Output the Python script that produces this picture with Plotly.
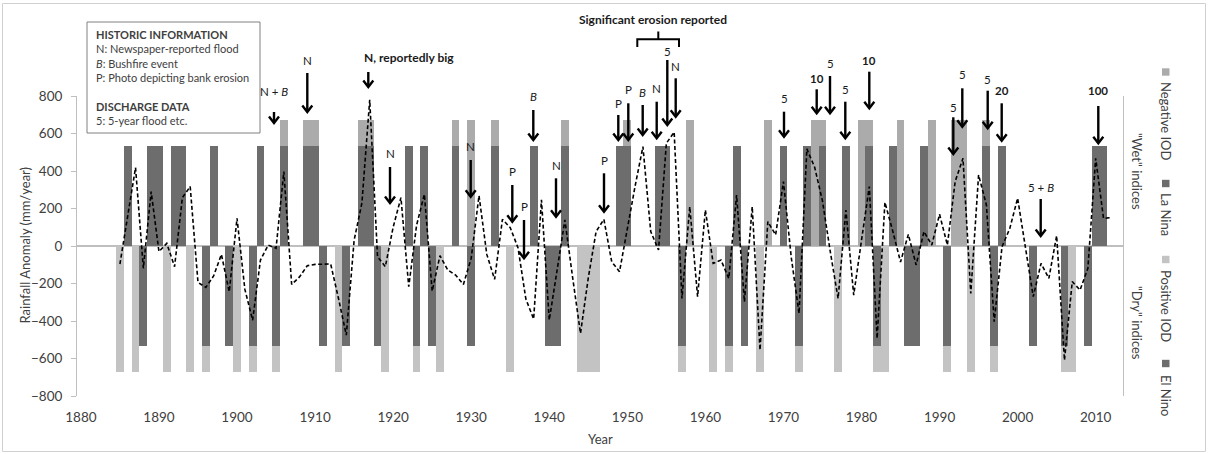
import plotly.graph_objects as go

# ---------------- data ----------------
years = list(range(1885, 2013))
rain_anom = [
    -96, 150, 418, -119, 290, -30, 14, -110, 258, 317,          # 1885-1894
    -194, -221, -160, -45, -244, 148, -230, -396, -75, 5,        # 1895-1904
    -12, 397, -205, -165, -105, -98, -96, -96, -280, -475,       # 1905-1914
    30, 230, 780, -57, -110, 100, 258, -217, 110, 276,           # 1915-1924
    -240, -52, -128, -155, -205, -65, 269, -45, -178, 142,       # 1925-1934
    98, -10, -282, -390, 246, -395, -130, 139, -170, -466,       # 1935-1944
    -170, 77, 142, -84, -137, 100, 320, 530, 77, -21,            # 1945-1954
    548, 607, -280, 210, -270, 192, -93, -75, -173, 272,         # 1955-1964
    -297, 210, -555, 130, 59, 344, -60, -360, 518, 420,          # 1965-1974
    240, -30, -280, 192, -262, 30, 317, -493, 233, 80,           # 1975-1984
    -85, 62, -101, 77, 5, 169, 5, 344, 468, -253,                # 1985-1994
    379, 219, -404, -4, 94, 255, 0, -270, -93, -173,             # 1995-2004
    55, -609, -190, -235, -119, 468, 148, 151,                   # 2005-2012
]

la_nina_years = [1886, 1889, 1890, 1892, 1893, 1897, 1903, 1906, 1909, 1910,
                 1916, 1917, 1922, 1924, 1928, 1933, 1938, 1942, 1949, 1950,
                 1954, 1955, 1964, 1970, 1973, 1975, 1978, 1981, 1984, 1988,
                 1996, 1998, 2010, 2011]
neg_iod_years = [1906, 1909, 1910, 1916, 1917, 1928, 1930, 1933, 1942, 1950,
                 1958, 1968, 1974, 1975, 1980, 1981, 1985, 1989, 1992, 1993,
                 1996]
el_nino_years = [1888, 1896, 1899, 1902, 1905, 1911, 1914, 1918, 1923, 1925,
                 1930, 1940, 1941, 1957, 1963, 1965, 1972, 1982, 1986, 1987,
                 1991, 1997, 2002, 2006, 2009]
pos_iod_years = [1885, 1887, 1891, 1894, 1896, 1900, 1902, 1905, 1913, 1919,
                 1923, 1926, 1935, 1944, 1945, 1946, 1957, 1961, 1963, 1967,
                 1972, 1977, 1982, 1983, 1991, 1994, 1997, 2006, 2007]
ENSO_BAR = 535
IOD_BAR = 670
x_ticks = list(range(1880, 2011, 10))
y_ticks = list(range(-800, 801, 200))

# ---------------- layout geometry ----------------
W, H = 1208, 454
ML, MR, MT, MB = 77, 85, 96, 58
PW = W - ML - MR
PH = H - MT - MB


def xp(px):
    return (px - ML) / PW


def yp(py):
    return (H - MB - py) / PH


FONT = "Lato"
TXT = "#404040"
LBL = "#1a1a1a"
DARK = "#6d6d6d"
NEG_IOD_C = "#ababab"
POS_IOD_C = "#c3c3c3"
AXC = "#bfbfbf"

fig = go.Figure()
fig.add_bar(x=neg_iod_years, y=[IOD_BAR] * len(neg_iod_years), width=1,
            marker=dict(color=NEG_IOD_C, line=dict(width=0)), name="Negative IOD")
fig.add_bar(x=la_nina_years, y=[ENSO_BAR] * len(la_nina_years), width=1,
            marker=dict(color=DARK, line=dict(width=0)), name="La Nina")
fig.add_bar(x=pos_iod_years, y=[-IOD_BAR] * len(pos_iod_years), width=1,
            marker=dict(color=POS_IOD_C, line=dict(width=0)), name="Positive IOD")
fig.add_bar(x=el_nino_years, y=[-ENSO_BAR] * len(el_nino_years), width=1,
            marker=dict(color=DARK, line=dict(width=0)), name="El Nino")
fig.add_scatter(x=years, y=rain_anom, mode="lines",
                line=dict(color="black", width=1.6, dash="4px,2.5px"),
                name="Rainfall anomaly")

annotations = []
shapes = []

# outer chart border
shapes.append(dict(type="rect", xref="paper", yref="paper",
                   x0=xp(2.5), x1=xp(1205.5), y0=yp(451.5), y1=yp(3.5),
                   line=dict(color="#d0d0d0", width=1), layer="below"))

# info box
shapes.append(dict(type="rect", xref="paper", yref="paper",
                   x0=xp(87), x1=xp(260), y0=yp(133), y1=yp(22),
                   line=dict(color="#808080", width=1), fillcolor="white", layer="above"))
annotations.append(dict(
    xref="paper", yref="paper", x=xp(94), y=yp(26), xanchor="left", yanchor="top",
    align="left", showarrow=False,
    font=dict(family=FONT, size=11, color=TXT),
    text=("<b>HISTORIC INFORMATION</b><br>N: Newspaper-reported flood<br>"
          "<i>B</i>: Bushfire event<br>P: Photo depicting bank erosion<br> <br>"
          "<b>DISCHARGE DATA</b><br>5: 5-year flood etc.")))

# arrows: (label, x px, label y px, tail y px, tip y px)
arrows = [
    ("N + <i>B</i>", 274, 91.7, 112, 123),
    ("N", 307.3, 61, 73, 112),
    (None, 368.3, None, 72, 87),
    ("N", 390, 153, 167, 203),
    ("N", 470.7, 146.7, 160, 196.7),
    ("P", 512.3, 171.7, 185, 221.7),
    ("P", 524, 206.7, 220, 258.3),
    ("<i>B</i>", 533.3, 96.7, 110, 140),
    ("N", 556, 165, 178.3, 216.7),
    ("P", 604, 160, 173.3, 211.7),
    ("P", 618.3, 103.3, 115, 140),
    ("P", 628.3, 89.3, 103.3, 140),
    ("<i>B</i>", 642.7, 92.7, 105, 135),
    ("N", 656.7, 88.3, 101.7, 138.3),
    ("5", 667.3, 51.7, 60, 125),
    ("N", 675.7, 66.7, 78.3, 116.7),
    ("5", 784, 98.3, 111.7, 136.7),
    ("<b>10</b>", 816.7, 78.3, 89.3, 113.3),
    ("5", 830, 63.3, 76, 113.3),
    ("5", 845.3, 89.3, 101.7, 138.3),
    ("<b>10</b>", 869.3, 60.7, 71.7, 108.3),
    ("5", 953.3, 107.3, 117.3, 154),
    ("5", 962.3, 75, 88.3, 126.7),
    ("5", 987.7, 79.3, 90.7, 128.3),
    ("<b>20</b>", 1001.7, 90.7, 103.3, 140.7),
    ("5 + <i>B</i>", 1040.7, 187.3, 199, 236),
    ("<b>100</b>", 1098.3, 90, 106, 143.3),
]
HW, HH = 5.0, 6.5  # chevron half-width / height (px)
for lab, ax_px, ly, ty, tip in arrows:
    shapes.append(dict(type="line", xref="paper", yref="paper",
                       x0=xp(ax_px), x1=xp(ax_px), y0=yp(ty), y1=yp(tip - 0.8),
                       line=dict(color="black", width=2.4)))
    shapes.append(dict(type="path", xref="paper", yref="paper",
                       path=(f"M {xp(ax_px - HW)},{yp(tip - HH)} L {xp(ax_px)},{yp(tip)} "
                             f"L {xp(ax_px + HW)},{yp(tip - HH)}"),
                       line=dict(color="black", width=2.4)))
    if lab:
        annotations.append(dict(
            xref="paper", yref="paper", x=xp(ax_px), y=yp(ly), xanchor="center",
            yanchor="middle", showarrow=False, text=lab,
            font=dict(family=FONT, size=11.5, color=LBL)))

annotations.append(dict(xref="paper", yref="paper", x=xp(362), y=yp(57),
                        xanchor="left", yanchor="middle", showarrow=False,
                        text="<b>N, reportedly big</b>",
                        font=dict(family=FONT, size=12, color=LBL)))
annotations.append(dict(xref="paper", yref="paper", x=xp(652.7), y=yp(20),
                        xanchor="center", yanchor="middle", showarrow=False,
                        text="<b>Significant erosion reported</b>",
                        font=dict(family=FONT, size=12, color=LBL)))
# bracket
bx1, bx2, bxm = xp(637.3), xp(679), xp(658.3)
by, bend, btop = yp(39.3), yp(47), yp(31.5)
shapes.append(dict(type="path", xref="paper", yref="paper",
                   path=f"M {bx1},{bend} L {bx1},{by} L {bx2},{by} L {bx2},{bend} "
                        f"M {bxm},{by} L {bxm},{btop}",
                   line=dict(color="black", width=2)))

# axis titles
annotations.append(dict(xref="paper", yref="paper", x=xp(24), y=yp(245.5),
                        textangle=-90, showarrow=False, xanchor="center", yanchor="middle",
                        text="Rainfall Anomaly (mm/year)",
                        font=dict(family=FONT, size=13, color=TXT)))
annotations.append(dict(xref="paper", yref="paper", x=xp(600), y=yp(439),
                        showarrow=False, xanchor="center", yanchor="middle",
                        text="Year", font=dict(family=FONT, size=13, color=TXT)))

# right side labels
for txt, cy in [('"Wet" indices', 171), ('"Dry" indices', 323)]:
    annotations.append(dict(xref="paper", yref="paper", x=xp(1137), y=yp(cy),
                            textangle=90, showarrow=False, text=txt,
                            xanchor="center", yanchor="middle",
                            font=dict(family=FONT, size=13, color=TXT)))
legend_items = [("Negative IOD", NEG_IOD_C, 72, 121),
                ("La Nina", DARK, 183.5, 214),
                ("Positive IOD", POS_IOD_C, 259.5, 306),
                ("El Nino", DARK, 363.5, 395)]
for name, col, sw_y, ty in legend_items:
    shapes.append(dict(type="rect", xref="paper", yref="paper",
                       x0=xp(1162), x1=xp(1169.5), y0=yp(sw_y + 3.7), y1=yp(sw_y - 3.7),
                       line=dict(width=0), fillcolor=col))
    annotations.append(dict(xref="paper", yref="paper", x=xp(1166), y=yp(ty),
                            textangle=90, showarrow=False, text=name,
                            xanchor="center", yanchor="middle",
                            font=dict(family=FONT, size=13, color=TXT)))

fig.update_layout(
    width=W, height=H,
    margin=dict(l=ML, r=MR, t=MT, b=MB, pad=0),
    barmode="overlay", bargap=0,
    showlegend=False,
    plot_bgcolor="white", paper_bgcolor="white",
    font=dict(family=FONT, color=TXT),
    xaxis=dict(range=[1879.5, 2013.5], tickvals=x_ticks, showgrid=False,
               zeroline=False, showline=False, ticks="outside", ticklen=9,
               tickcolor="rgba(0,0,0,0)",
               tickfont=dict(family=FONT, size=13.5, color=TXT)),
    yaxis=dict(range=[-800, 800], tickvals=y_ticks, showgrid=False,
               showline=True, linecolor=AXC, linewidth=1, mirror=True,
               ticks="outside", ticklen=5, tickcolor=AXC,
               zeroline=True, zerolinecolor=AXC, zerolinewidth=1.5,
               tickfont=dict(family=FONT, size=13.5, color=TXT),
               ticklabelstandoff=6),
    shapes=shapes,
    annotations=annotations,
)

fig.write_html("out.html")
